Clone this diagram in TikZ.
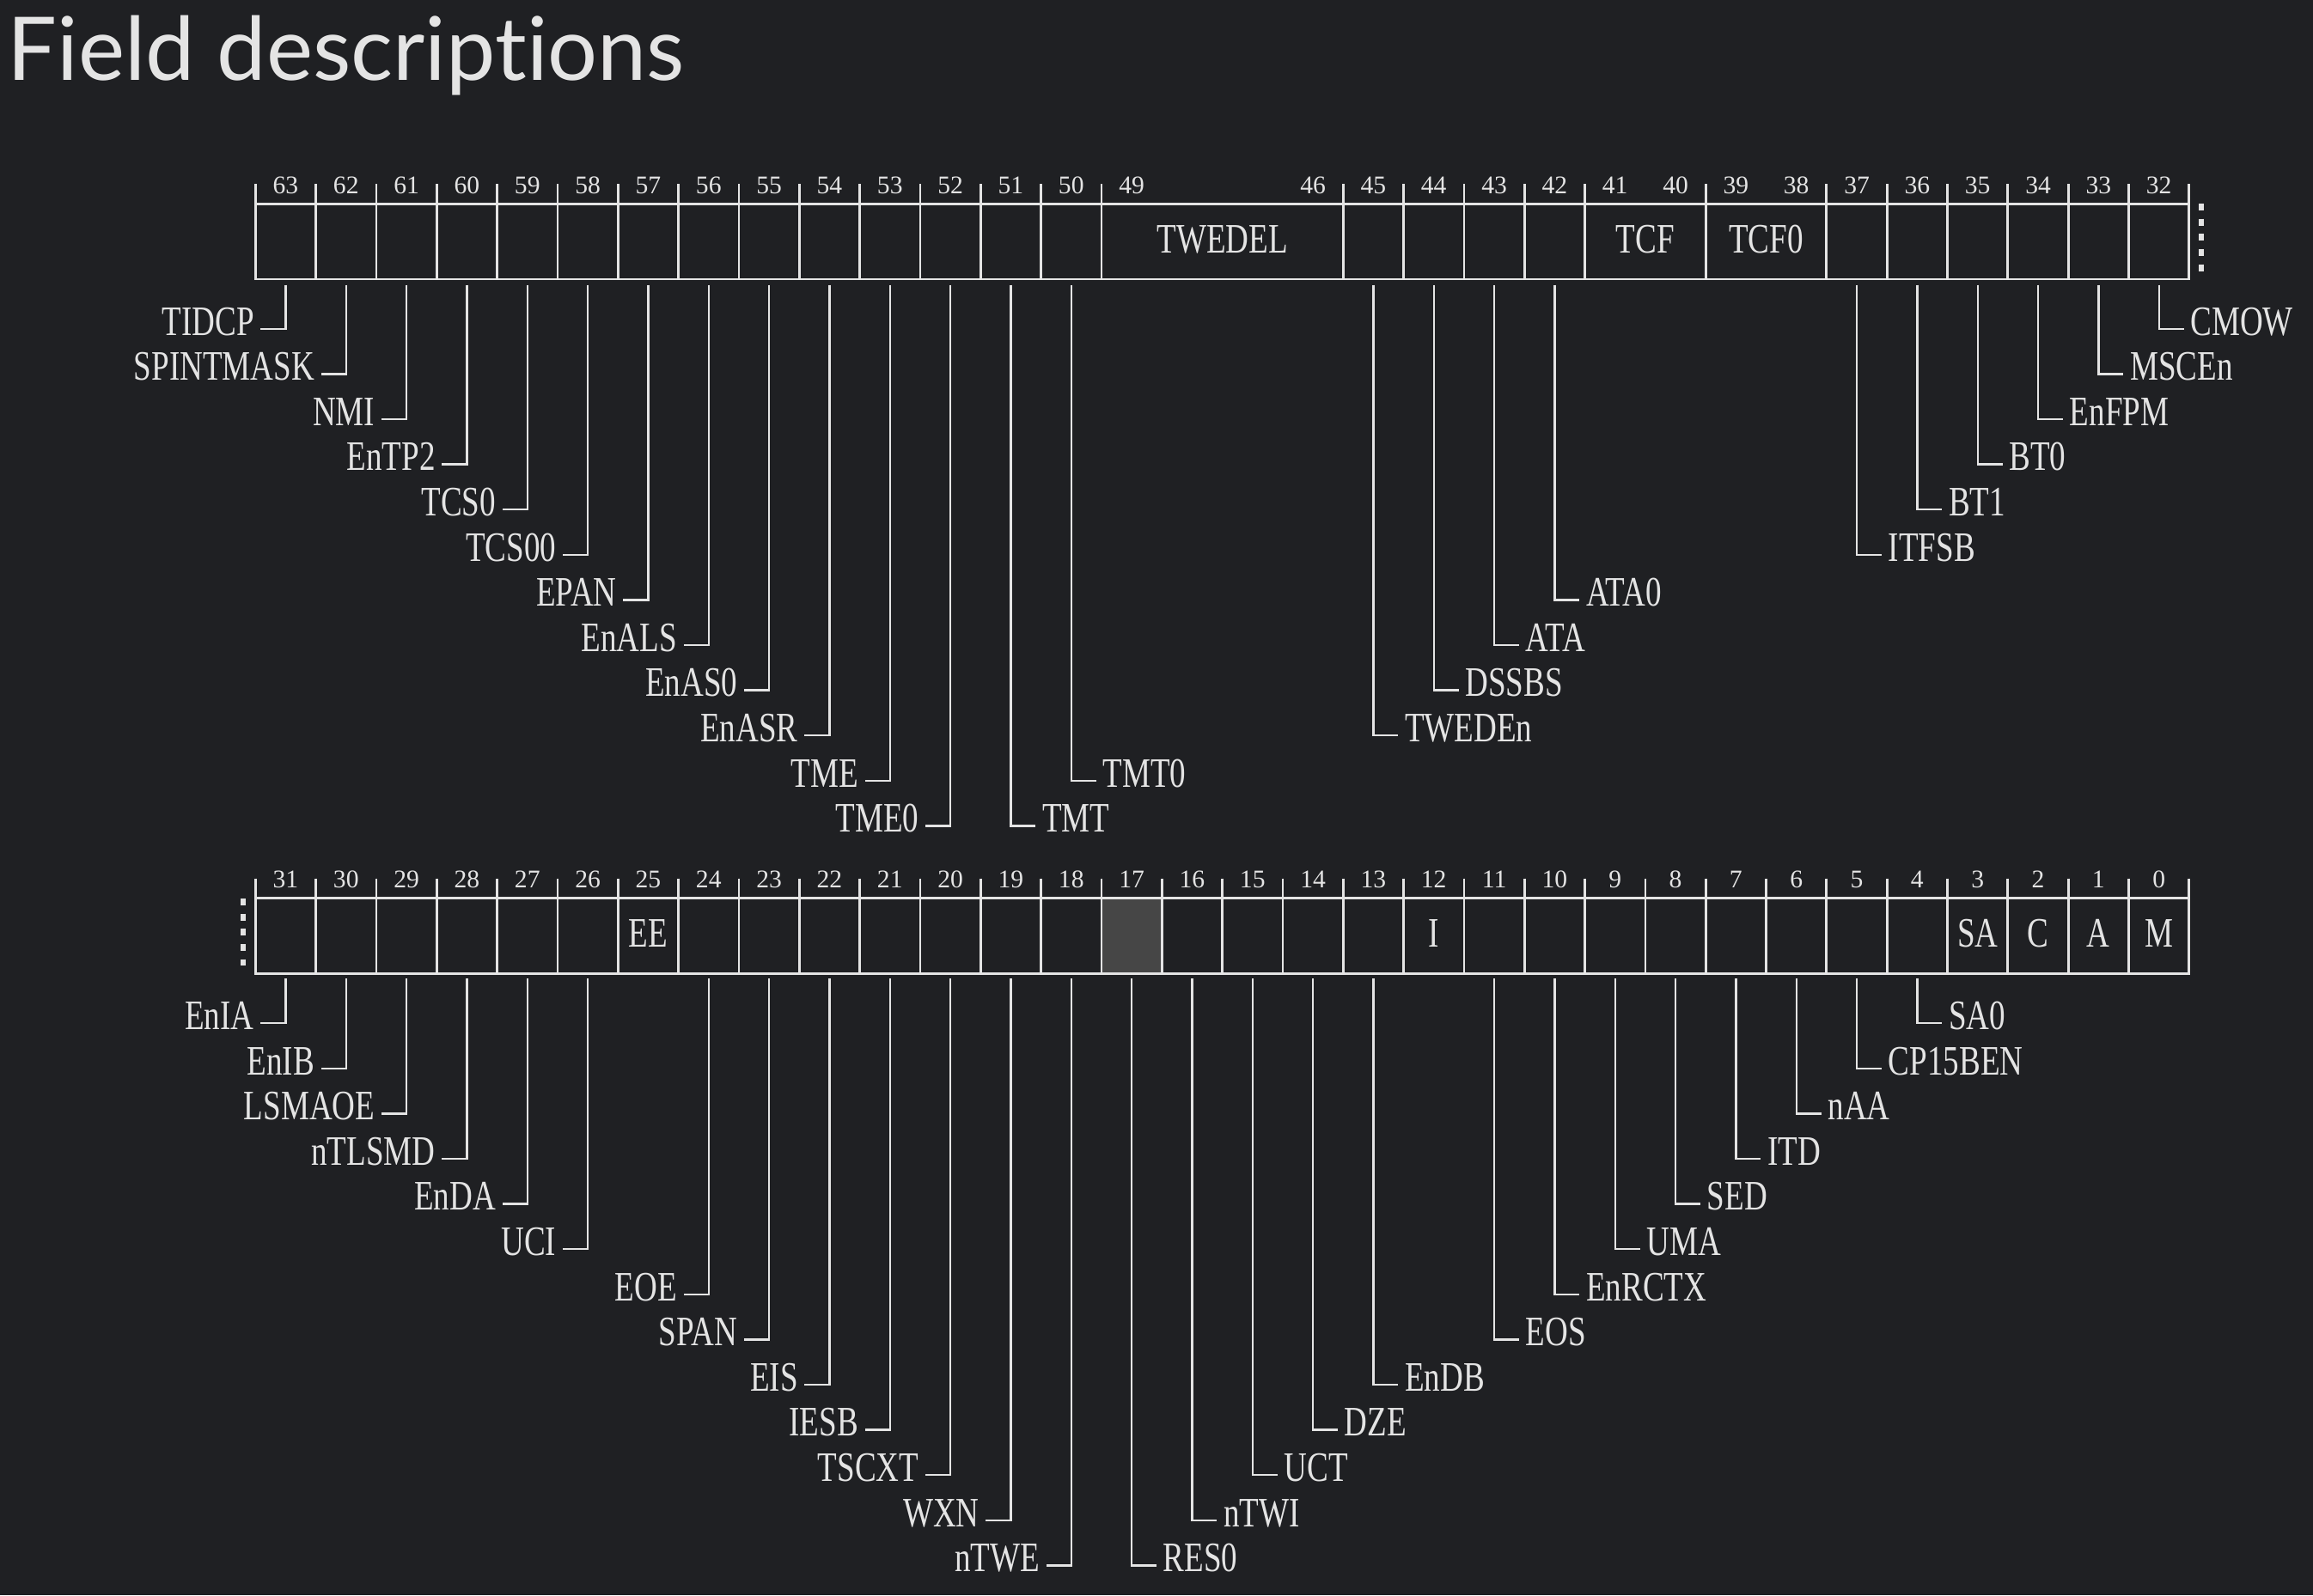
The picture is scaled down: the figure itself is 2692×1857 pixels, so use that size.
\documentclass[tikz,border=0pt]{standalone}
\usepackage{fontspec}
\newfontfamily\labfont[FakeStretch=0.76]{Liberation Serif}
\newfontfamily\numfont{Liberation Serif}
\newfontfamily\titlefont[Ligatures=NoCommon,RawFeature=-liga;-dlig]{Lato}
\usetikzlibrary{calc}
\definecolor{bg}{HTML}{1F2023}
\definecolor{fg}{HTML}{E4E4E4}
\definecolor{cellgray}{HTML}{464646}
\begin{document}
\begin{tikzpicture}[x=0.25pt,y=-0.25pt,
  regline/.style={draw=fg,line width=0.7pt},
  lead/.style={draw=fg,line width=0.6pt},
  dotline/.style={draw=fg,line width=1.5pt,dash pattern=on 2pt off 2.42pt},
  labL/.style={anchor=base east,inner sep=0pt,text=fg,font={\labfont\fontsize{12.2}{14}\selectfont}},
  labR/.style={anchor=base west,inner sep=0pt,text=fg,font={\labfont\fontsize{12.2}{14}\selectfont}},
  boxlab/.style={anchor=base,inner sep=0pt,text=fg,font={\labfont\fontsize{12.2}{14}\selectfont}},
  num/.style={anchor=center,inner sep=0pt,text=fg,font={\numfont\fontsize{7.4}{9}\selectfont}},
  titlestyle/.style={anchor=base west,inner sep=0pt,text=fg,font={\titlefont\fontsize{25.6}{30}\selectfont}}
]
\fill[bg] (0,0) rectangle (2692,1857);
\useasboundingbox (0,0) rectangle (2692,1857);

\def\XO{297.3}
\def\W{70.33}

\node[titlestyle] (title) at (8,93) {Field descriptions};

% ================= top register (63..32) =================
\draw[regline] (\XO,237.3) rectangle (\XO+32*\W,325);
\foreach \i in {1,...,14,18,19,20,21,22,24,26,27,28,29,30,31}
  \draw[regline] (\XO+\i*\W,237.3) -- (\XO+\i*\W,325);
\foreach \i in {0,...,14,18,19,20,21,22,24,26,27,28,29,30,31,32}
  \draw[regline] (\XO+\i*\W,214) -- (\XO+\i*\W,237.3);
\foreach \b in {63,...,49,46,45,...,32}
  \node[num] (n\b) at (\XO+63.5*\W-\b*\W,216) {\b};
\draw[dotline] (2562,237) -- (2562,316);
\node[boxlab] (fTWEDEL) at (\XO+16*\W,294) {TWEDEL};
\node[boxlab] (fTCF) at (\XO+23*\W,294) {TCF};
\node[boxlab] (fTCFO) at (\XO+25*\W,294) {TCF0};

% left-turning leaders (top)
\foreach \b/\r/\t in {63/0/TIDCP,62/1/SPINTMASK,61/2/NMI,60/3/EnTP2,59/4/TCS0,58/5/TCS00,57/6/EPAN,56/7/EnALS,55/8/EnAS0,54/9/EnASR,53/10/TME,52/11/TME0}{
  \pgfmathsetmacro\cx{\XO+(63.5-\b)*\W}
  \pgfmathsetmacro\sy{382.7+\r*52.6}
  \coordinate (s\b) at (\cx,331.7);
  \coordinate (e\b) at (\cx-29,\sy);
  \node[labL] (l\b) at (\cx-36,\sy+7.3) {\t};
  \draw[lead] (s\b) |- (e\b);
}
% right-turning leaders (top)
\foreach \b/\r/\t in {51/11/TMT,50/10/TMT0,45/9/TWEDEn,44/8/DSSBS,43/7/ATA,42/6/ATA0,37/5/ITFSB,36/4/BT1,35/3/BT0,34/2/EnFPM,33/1/MSCEn,32/0/CMOW}{
  \pgfmathsetmacro\cx{\XO+(63.5-\b)*\W}
  \pgfmathsetmacro\sy{382.7+\r*52.6}
  \coordinate (s\b) at (\cx,331.7);
  \coordinate (e\b) at (\cx+29,\sy);
  \node[labR] (l\b) at (\cx+36,\sy+7.3) {\t};
  \draw[lead] (s\b) |- (e\b);
}

% ================= bottom register (31..0) =================
\fill[cellgray] (\XO+14*\W,1045.7) rectangle (\XO+15*\W,1133.3);
\draw[regline] (\XO,1045.7) rectangle (\XO+32*\W,1133.3);
\foreach \i in {1,...,31}
  \draw[regline] (\XO+\i*\W,1045.7) -- (\XO+\i*\W,1133.3);
\foreach \i in {0,...,32}
  \draw[regline] (\XO+\i*\W,1022.7) -- (\XO+\i*\W,1045.7);
\foreach \b in {31,...,0}
  \node[num] (n\b) at (\XO+31.5*\W-\b*\W,1023.8) {\b};
\draw[dotline] (283.3,1046) -- (283.3,1124);
\node[boxlab] (fEE) at (\XO+6.5*\W,1102.5) {EE};
\node[boxlab] (fI) at (\XO+19.5*\W,1102.5) {I};
\node[boxlab] (fSA) at (\XO+28.5*\W,1102.5) {SA};
\node[boxlab] (fC) at (\XO+29.5*\W,1102.5) {C};
\node[boxlab] (fA) at (\XO+30.5*\W,1102.5) {A};
\node[boxlab] (fM) at (\XO+31.5*\W,1102.5) {M};

% left-turning leaders (bottom)
\foreach \b/\r/\t in {31/0/EnIA,30/1/EnIB,29/2/LSMAOE,28/3/nTLSMD,27/4/EnDA,26/5/UCI,24/6/EOE,23/7/SPAN,22/8/EIS,21/9/IESB,20/10/TSCXT,19/11/WXN,18/12/nTWE}{
  \pgfmathsetmacro\cx{\XO+(31.5-\b)*\W}
  \pgfmathsetmacro\sy{1191.1+\r*52.6}
  \coordinate (s\b) at (\cx,1139.3);
  \coordinate (e\b) at (\cx-29,\sy);
  \node[labL] (l\b) at (\cx-36,\sy+7.3) {\t};
  \draw[lead] (s\b) |- (e\b);
}
% right-turning leaders (bottom)
\foreach \b/\r/\t in {17/12/RES0,16/11/nTWI,15/10/UCT,14/9/DZE,13/8/EnDB,11/7/EOS,10/6/EnRCTX,9/5/UMA,8/4/SED,7/3/ITD,6/2/nAA,5/1/CP15BEN,4/0/SA0}{
  \pgfmathsetmacro\cx{\XO+(31.5-\b)*\W}
  \pgfmathsetmacro\sy{1191.1+\r*52.6}
  \coordinate (s\b) at (\cx,1139.3);
  \coordinate (e\b) at (\cx+29,\sy);
  \node[labR] (l\b) at (\cx+36,\sy+7.3) {\t};
  \draw[lead] (s\b) |- (e\b);
}
\end{tikzpicture}
\end{document}
